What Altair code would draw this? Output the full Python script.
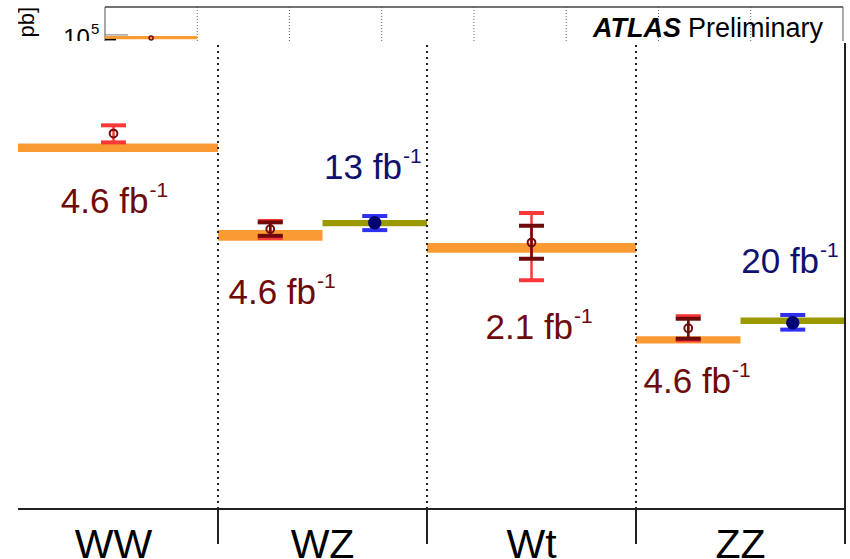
import altair as alt
import pandas as pd

FONT = "Liberation Sans"
ORANGE = "#F99B32"
OLIVE = "#9A9A00"
MAROON = "#6E0A0A"
RED = "#F93838"
BLUE = "#3030F2"
NAVY = "#000070"
NAVY_TXT = "#10106E"
FRAME = "#222222"

# ---------------- main panel: cross sections [pb] ----------------
categories = ["WW", "WZ", "Wt", "ZZ"]
cat_center = [0.5, 1.5, 2.5, 3.5]
cat_edges = [1.0, 2.0, 3.0]
frame_edge = 4.0

# theory predictions (band = prediction uncertainty)
th_x0 = [0.043, 1.0, 1.5, 2.0, 3.0, 3.5]
th_x1 = [1.0, 1.5, 2.0, 3.0, 3.5, 4.0]
th_lo = [42.7, 16.8, 19.6, 14.8, 5.7, 7.0]
th_hi = [46.7, 18.8, 20.9, 16.4, 6.15, 7.5]
th_color = [ORANGE, ORANGE, OLIVE, ORANGE, ORANGE, OLIVE]

# 7 TeV measurements (total uncertainty)
m7_x = [0.5, 1.25, 2.5, 3.25]
m7_val = [51.9, 19.0, 16.5, 6.7]
m7_tot_lo = [47.3, 17.3, 11.1, 5.9]
m7_tot_hi = [56.6, 20.7, 22.5, 7.6]
# 7 TeV statistical uncertainty (WZ, Wt, ZZ)
m7s_x = [1.25, 2.5, 3.25]
m7s_lo = [17.7, 13.9, 6.0]
m7s_hi = [20.4, 19.7, 7.4]

# 8 TeV measurements (total uncertainty)
m8_x = [1.75, 3.75]
m8_val = [20.3, 7.1]
m8_tot_lo = [18.8, 6.6]
m8_tot_hi = [21.8, 7.7]

# integrated-luminosity labels
lumi_text = ["4.6 fb", "13 fb", "4.6 fb", "2.1 fb", "4.6 fb", "20 fb"]
lumi_x = [0.667, 1.880, 1.469, 2.699, 3.455, 3.876]
lumi_y = [22.5, 32.2, 8.64, 5.98, 3.39, 11.97]
lumi_color = [MAROON, NAVY_TXT, MAROON, MAROON, MAROON, NAVY_TXT]

# axis furniture (in pb)
axis_base = 1.0
tick_end = 0.692
label_base = 0.60
x_domain = [0.043, 4.0]
y_domain = [0.5849, 134.56]

xs = alt.Scale(domain=x_domain, nice=False, zero=False)
ys = alt.Scale(type="log", domain=y_domain, nice=False)


def X(f):
    return alt.X(f, type="quantitative", scale=xs, axis=None)


def Y(f):
    return alt.Y(f, type="quantitative", scale=ys, axis=None)


top_val = y_domain[1]

separators = alt.Chart(pd.DataFrame({
    "x": cat_edges, "y0": [axis_base] * len(cat_edges), "y1": [top_val] * len(cat_edges)
})).mark_rule(color=FRAME, strokeWidth=2, strokeDash=[2, 4]).encode(x=X("x"), y=Y("y0"), y2="y1")

frame = alt.Chart(pd.DataFrame({"x": [frame_edge], "y0": [tick_end], "y1": [top_val]})).mark_rule(
    color=FRAME, strokeWidth=2).encode(x=X("x"), y=Y("y0"), y2="y1")

axis_line = alt.Chart(pd.DataFrame({"x0": [x_domain[0]], "x1": [frame_edge], "y": [axis_base]})).mark_rule(
    color=FRAME, strokeWidth=2).encode(x=X("x0"), x2="x1", y=Y("y"))

tick_x = cat_edges + [frame_edge]
axis_ticks = alt.Chart(pd.DataFrame({
    "x": tick_x, "y0": [tick_end] * len(tick_x), "y1": [axis_base] * len(tick_x)
})).mark_rule(color=FRAME, strokeWidth=2).encode(x=X("x"), y=Y("y0"), y2="y1")

cat_labels = alt.Chart(pd.DataFrame({
    "x": cat_center, "y": [label_base] * len(categories), "t": categories
})).mark_text(font=FONT, fontSize=41, color="black", baseline="alphabetic", clip=True).encode(
    x=X("x"), y=Y("y"), text="t:N")

bands = alt.Chart(pd.DataFrame({
    "x0": th_x0, "x1": th_x1, "lo": th_lo, "hi": th_hi, "c": th_color
})).mark_rect(opacity=1).encode(x=X("x0"), x2="x1", y=Y("lo"), y2="hi", color=alt.Color("c:N", scale=None))


def error_bar(xv, lo, hi, color, width=2.5, cap=25, thick=4):
    df = pd.DataFrame({"x": xv, "lo": lo, "hi": hi})
    stem = alt.Chart(df).mark_rule(color=color, strokeWidth=width, opacity=1).encode(
        x=X("x"), y=Y("lo"), y2="hi")
    caps_df = pd.DataFrame({"x": list(xv) + list(xv), "y": list(lo) + list(hi)})
    caps = alt.Chart(caps_df).mark_tick(orient="horizontal", color=color, size=cap, thickness=thick,
                                        opacity=1).encode(x=X("x"), y=Y("y"))
    return stem + caps


err7_tot = error_bar(m7_x, m7_tot_lo, m7_tot_hi, RED)
err7_stat = error_bar(m7s_x, m7s_lo, m7s_hi, MAROON)
err8_tot = error_bar(m8_x, m8_tot_lo, m8_tot_hi, BLUE)

pts7 = alt.Chart(pd.DataFrame({"x": m7_x, "v": m7_val})).mark_point(
    shape="circle", filled=False, color=MAROON, strokeWidth=2, size=60, opacity=1).encode(x=X("x"), y=Y("v"))
pts8 = alt.Chart(pd.DataFrame({"x": m8_x, "v": m8_val})).mark_point(
    shape="circle", filled=True, color=NAVY, size=180, opacity=1).encode(x=X("x"), y=Y("v"))

lumi_df = pd.DataFrame({"x": lumi_x, "y": lumi_y, "t": lumi_text, "c": lumi_color,
                        "s": ["-1"] * len(lumi_text)})
lumi_main = alt.Chart(lumi_df).mark_text(font=FONT, fontSize=35, align="right", baseline="alphabetic").encode(
    x=X("x"), y=Y("y"), text="t:N", color=alt.Color("c:N", scale=None))
lumi_sup = alt.Chart(lumi_df).mark_text(font=FONT, fontSize=21, align="left", baseline="alphabetic",
                                        dy=-16, dx=1).encode(
    x=X("x"), y=Y("y"), text="s:N", color=alt.Color("c:N", scale=None))

main = alt.layer(
    bands, separators, frame, axis_line, axis_ticks, cat_labels,
    err7_tot, err7_stat, err8_tot, pts7, pts8, lumi_main, lumi_sup
).properties(width=827, height=517, view=alt.ViewBackground(fill="white", stroke=None))

# ---------------- overview strip (upper part of the full summary) ----------------
strip_edges = [1, 2, 3, 4, 5, 6, 7]
strip_right = 8
sx_domain = [-0.943, 8.022]
sy_domain = [9.5e4, 3.5e5]
w_th_lo, w_th_hi = 1.02e5, 1.15e5
w_meas = 1.066e5
w_th8 = 1.2e5
strip_tick = 1.0e5

sxs = alt.Scale(domain=sx_domain, nice=False, zero=False)
sys_ = alt.Scale(type="log", domain=sy_domain, nice=False)


def SX(f):
    return alt.X(f, type="quantitative", scale=sxs, axis=None)


def SY(f):
    return alt.Y(f, type="quantitative", scale=sys_, axis=None)


s_grid = alt.Chart(pd.DataFrame({"x": strip_edges})).mark_rule(
    color="#666666", strokeWidth=1, strokeDash=[1, 2]).encode(x=SX("x"))
s_sides = alt.Chart(pd.DataFrame({"x": [0, strip_right]})).mark_rule(color="#555555", strokeWidth=1).encode(
    x=SX("x"))
s_top = alt.Chart(pd.DataFrame({"x0": [0], "x1": [strip_right], "y": [sy_domain[1]]})).mark_rule(
    color="#444444", strokeWidth=1.5).encode(x=SX("x0"), x2="x1", y=SY("y"))
s_tick = alt.Chart(pd.DataFrame({"x0": [0], "x1": [0.12], "y": [strip_tick]})).mark_rule(
    color="black", strokeWidth=1.5).encode(x=SX("x0"), x2="x1", y=SY("y"))
s_band = alt.Chart(pd.DataFrame({"x0": [0], "x1": [1], "lo": [w_th_lo], "hi": [w_th_hi]})).mark_rect(
    color=ORANGE, opacity=1).encode(x=SX("x0"), x2="x1", y=SY("lo"), y2="hi")
s_band8 = alt.Chart(pd.DataFrame({"x0": [0], "x1": [0.25], "y": [w_th8]})).mark_rule(
    color="#777777", strokeWidth=1).encode(x=SX("x0"), x2="x1", y=SY("y"))
s_pt = alt.Chart(pd.DataFrame({"x": [0.5], "v": [w_meas]})).mark_point(
    shape="circle", filled=False, color=MAROON, strokeWidth=1.5, size=16, opacity=1).encode(x=SX("x"), y=SY("v"))

# "10^5" tick label: mantissa and raised exponent
s_lab_base = alt.Chart(pd.DataFrame({"x": [-0.163], "y": [7.84e4], "t": ["10"]})).mark_text(
    font=FONT, fontSize=24, align="right", baseline="alphabetic", clip=True, color="black").encode(
    x=SX("x"), y=SY("y"), text="t:N")
s_lab_exp = alt.Chart(pd.DataFrame({"x": [-0.163], "y": [1.243e5], "t": ["5"]})).mark_text(
    font=FONT, fontSize=15, align="left", baseline="alphabetic", dx=1, clip=True, color="black").encode(
    x=SX("x"), y=SY("y"), text="t:N")
# axis title, reading upwards
s_title = alt.Chart(pd.DataFrame({"x": [-0.770], "y": [3.5e5], "t": ["pb]"]})).mark_text(
    font=FONT, fontSize=22, angle=270, align="right", baseline="alphabetic", clip=True,
    color="black").encode(x=SX("x"), y=SY("y"), text="t:N")
s_atlas = alt.Chart(pd.DataFrame({"x": [5.29], "y": [1.108e5], "t": ["ATLAS"]})).mark_text(
    font=FONT, fontSize=27, fontStyle="italic", fontWeight="bold", align="left", baseline="alphabetic",
    color="black").encode(x=SX("x"), y=SY("y"), text="t:N")
s_prelim = alt.Chart(pd.DataFrame({"x": [6.32], "y": [1.108e5], "t": ["Preliminary"]})).mark_text(
    font=FONT, fontSize=27, align="left", baseline="alphabetic", color="black").encode(
    x=SX("x"), y=SY("y"), text="t:N")

strip = alt.layer(
    s_grid, s_sides, s_top, s_band, s_band8, s_tick, s_pt, s_lab_base, s_lab_exp, s_title, s_atlas, s_prelim
).properties(width=827, height=34)

chart = alt.vconcat(strip, main, spacing=-2).properties(
    padding={"left": 17, "top": 6, "right": 0, "bottom": 0},
    background="white",
).configure_view(stroke=None)

chart.save("out.html", embed_options={"renderer": "svg", "actions": False})
